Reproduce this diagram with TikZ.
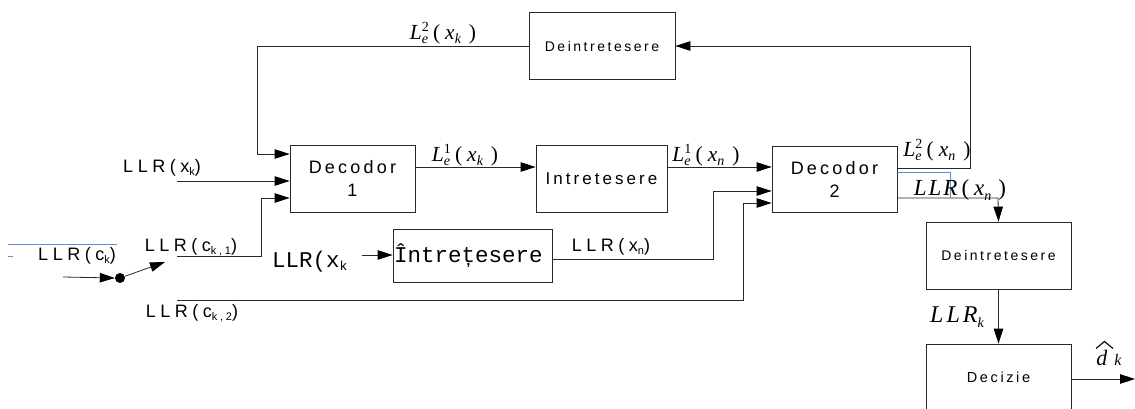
\documentclass[tikz,border=0pt]{standalone}
\usepackage{fontspec}
\setmainfont{Liberation Sans}
\newfontfamily\asp[LetterSpace=18]{Liberation Sans}
\newfontfamily\alab[LetterSpace=25]{Liberation Sans}
\newfontfamily\monof{Liberation Mono}
\newfontfamily\tms{Liberation Serif}
\usetikzlibrary{arrows.meta}
\newcommand{\sbk}[1]{\raisebox{-2.5pt}{\fontsize{11}{11}\selectfont #1}}
\newcommand{\msbk}[1]{\raisebox{-3pt}{\fontsize{13}{13}\selectfont #1}}
\newcommand{\tsub}[1]{\raisebox{-4.5pt}{\fontsize{14}{14}\selectfont\itshape #1}}
\newcommand{\tsup}[1]{\raisebox{8pt}{\fontsize{14}{14}\selectfont #1}}
\newcommand{\LeLab}[2]{{\itshape L}\rlap{\tsup{#1}}\tsub{e}\hspace{5pt}(\hspace{5pt}{\itshape x}\tsub{#2}\hspace{8pt})}
\definecolor{ln}{RGB}{40,40,40}
\definecolor{bl}{RGB}{90,145,215}
\begin{document}
\begin{tikzpicture}[x=1pt,y=-1pt,
  box/.style={draw=ln,line width=0.8pt,inner sep=0pt,align=center},
  arr/.style={draw=ln,line width=0.8pt,-{Triangle[length=15pt,width=9.5pt,color=black,fill=black]}},
  bwire/.style={draw=bl,line width=0.8pt},
  lab/.style={inner sep=0pt,font=\alab\fontsize{18}{20}\selectfont},
  mlab/.style={inner sep=0pt,font=\tms\fontsize{21.5}{24}\selectfont}]
\useasboundingbox (0,0) rectangle (1135,408);
% boxes
\node[box,minimum width=146pt,minimum height=67pt,font=\asp\fontsize{14}{16}\selectfont] (dei1) at (602,46) {Deintretesere};
\node[box,minimum width=125pt,minimum height=67pt,font=\asp\fontsize{18}{23}\selectfont] (dec1) at (352.5,178.5) {Decodor\\1};
\node[box,minimum width=131pt,minimum height=67pt,font=\asp\fontsize{17}{20}\selectfont] (intr) at (601.5,178.5) {Intretesere};
\node[box,minimum width=125pt,minimum height=66pt,font=\asp\fontsize{18}{23}\selectfont] (dec2) at (834.5,179) {Decodor\\2};
\node[box,minimum width=159pt,minimum height=53pt,text width=157pt,align=left,font=\monof\fontsize{22.5}{24}\selectfont] (intr2) at (472.5,255.5) {Întrețesere};
\node[box,minimum width=145pt,minimum height=67pt,font=\asp\fontsize{14}{17}\selectfont] (dei2) at (998.5,255.5) {Deintretesere};
\node[box,minimum width=145pt,minimum height=67pt,font=\asp\fontsize{14.5}{17}\selectfont] (dcz) at (998.5,377.5) {Decizie};
% coordinates
\coordinate (fbR) at (970,168);
\coordinate (fbL) at (257,154);
\coordinate (xk) at (177,181);
\coordinate (ck1) at (177,256);
\coordinate (ck1b) at (261,198);
\coordinate (ck2) at (177,300);
\coordinate (ck2b) at (743,203);
\coordinate (r1) at (0,167);
\coordinate (xnb) at (713,191);
\coordinate (xnr) at (0,259);
\coordinate (mk) at (362,255);
\coordinate (o2) at (998,198);
\coordinate (bl1) at (0,172);
\coordinate (bl2) at (950,198);
\coordinate (out) at (1135,379);
\coordinate (sw0) at (63,277);
\coordinate (sw1) at (165,262);
\node[circle,fill=black,inner sep=0pt,minimum size=10pt] (dot) at (120,278) {};
% connectors
\draw[arr] (fbR -| dec2.east) -- (fbR) |- (dei1.east);
\draw[arr] (dei1.west) -| (fbL) -- (fbL -| dec1.west);
\draw[arr] (xk) -- (xk -| dec1.west);
\draw[arr] (ck1) -| (ck1b) -- (ck1b -| dec1.west);
\draw[arr] (ck2) -| (ck2b) -- (ck2b -| dec2.west);
\draw[arr] (dec1.east |- r1) -- (intr.west |- r1);
\draw[arr] (intr.east |- r1) -- (dec2.west |- r1);
\draw[arr] (intr2.east |- xnr) -| (xnb) -- (xnb -| dec2.west);
\draw[arr] (mk) -- (mk -| intr2.west);
\draw[arr] (o2 -| dec2.east) -- (o2) -- (dei2.north);
\draw[bwire] (dec2.east |- bl1) -| (bl2);
\draw[arr] (dei2.south) -- (dcz.north);
\draw[arr] (dcz.east |- out) -- (out);
\draw[arr] (sw0) -- (dot.west);
\draw[arr] (dot) -- (sw1);
\coordinate (b1) at (8,244); \coordinate (b2) at (117,244);
\coordinate (b3) at (8,256); \coordinate (b4) at (13,256);
\draw[bwire] (b1) -- (b2);
\draw[bwire] (b3) -- (b4);
% labels
\node[lab] (lxk) at (162,168) {LLR(x\sbk{k})};
\node[lab] (lck) at (77,256) {LLR(c\sbk{k})};
\node[lab] (lck1) at (191,247) {LLR(c\sbk{k,1})};
\node[lab] (lck2) at (192,313) {LLR(c\sbk{k,2})};
\node[lab] (lxn) at (611,247) {LLR(x\sbk{n})};
\node[inner sep=0pt,anchor=west,font=\monof\fontsize{22.5}{24}\selectfont] (mxk) at (272,262) {LLR(x\msbk{k}};
\node[mlab] (le1k) at (465,155) {\LeLab{1}{k}};
\node[mlab] (le1n) at (706,155) {\LeLab{1}{n}};
\node[mlab] (le2k) at (443,33) {\LeLab{2}{k}};
\node[mlab] (le2n) at (937,150) {\LeLab{2}{n}};
\node[mlab,font=\tms\itshape\fontsize{23}{24}\selectfont] (llrn) at (960,190) {L\hspace{2pt}L\hspace{2pt}R\hspace{4pt}{\upshape(}\hspace{5pt}x\tsub{n}\hspace{7pt}{\upshape)}};
\node[mlab,font=\tms\itshape\fontsize{24}{26}\selectfont] (llrk) at (957,317) {L\hspace{3pt}L\hspace{3pt}R\tsub{k}};
\node[mlab,font=\tms\itshape\fontsize{22}{24}\selectfont] (dk) at (1109,358) {d\hspace{7pt}{\fontsize{16}{16}\selectfont k}};
\coordinate (h1) at (1096,348.5); \coordinate (h2) at (1104.5,341.5); \coordinate (h3) at (1113,348.5);
\draw[line width=1.1pt,line join=miter] (h1) -- (h2) -- (h3);
\end{tikzpicture}
\end{document}
